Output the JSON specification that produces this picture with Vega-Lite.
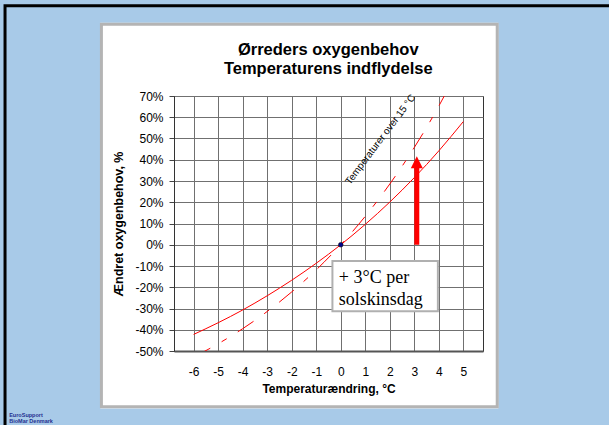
{
  "$schema": "https://vega.github.io/schema/vega-lite/v6.json",
  "autosize": "none",
  "width": 309,
  "height": 255,
  "padding": {"left": 174, "top": 96, "right": 126, "bottom": 74},
  "background": "white",
  "config": {
    "view": {"stroke": "#333333", "strokeWidth": 1},
    "font": "Liberation Sans",
    "axis": {"labelFont": "Liberation Sans", "titleFont": "Liberation Sans", "labelColor": "black", "titleColor": "black", "gridColor": "#707070", "gridOpacity": 1, "gridWidth": 1, "labelOverlap": false},
    "axisX": {"title": "Temperaturændring, °C", "titleFontSize": 12, "titleFontWeight": "bold", "titlePadding": 6, "labelFontSize": 12, "labelPadding": 15, "ticks": false, "grid": true, "domainColor": "#555555", "domainWidth": 2},
    "axisY": {"titleFontSize": 12.5, "titleFontWeight": "bold", "titlePadding": 9, "labelFontSize": 12, "labelPadding": 6, "tickSize": 5, "tickColor": "#444444", "grid": true, "domainColor": "#333333"}
  },
  "datasets": {
    "solid": [
      {"temp": -6, "pct": -42.2}, {"temp": -5, "pct": -36.7}, {"temp": -4, "pct": -30.7},
      {"temp": -3, "pct": -24.0}, {"temp": -2, "pct": -16.7}, {"temp": -1, "pct": -8.7},
      {"temp": 0, "pct": 0}, {"temp": 1, "pct": 9.6}, {"temp": 2, "pct": 20.1},
      {"temp": 3, "pct": 31.6}, {"temp": 4, "pct": 44.2}, {"temp": 5, "pct": 58.0}
    ],
    "dashed": [
      {"temp": -6, "pct": -52.9}, {"temp": -5, "pct": -46.6}, {"temp": -4, "pct": -39.5},
      {"temp": -3, "pct": -31.4}, {"temp": -2, "pct": -22.2}, {"temp": -1, "pct": -11.8},
      {"temp": 0, "pct": 0}, {"temp": 1, "pct": 13.4}, {"temp": 2, "pct": 28.6},
      {"temp": 3, "pct": 45.8}, {"temp": 4, "pct": 65.3}, {"temp": 4.3, "pct": 71.7}
    ],
    "origin": [{"temp": 0, "pct": 0}],
    "note": [{"label": "annotation"}]
  },
  "layer": [
    {
      "data": {"name": "solid"},
      "mark": {"type": "line", "color": "red", "strokeWidth": 1, "interpolate": "monotone", "clip": true},
      "encoding": {
        "x": {"field": "temp", "type": "quantitative", "scale": {"domain": [-6.8, 5.8], "nice": false, "zero": false},
          "axis": {"title": "Temperaturændring, °C", "values": [-6, -5, -4, -3, -2, -1, 0, 1, 2, 3, 4, 5], "labelExpr": "'' + datum.value"}},
        "y": {"field": "pct", "type": "quantitative", "scale": {"domain": [-50, 70], "nice": false, "zero": false},
          "axis": {"title": "Ændret oxygenbehov, %", "values": [-50, -40, -30, -20, -10, 0, 10, 20, 30, 40, 50, 60, 70], "labelExpr": "datum.value + '%'"}}
      }
    },
    {
      "data": {"name": "dashed"},
      "mark": {"type": "line", "color": "red", "strokeWidth": 1, "strokeDash": [19, 13, 6, 13], "clip": true, "interpolate": "monotone"},
      "encoding": {
        "x": {"field": "temp", "type": "quantitative",
          "axis": {"title": "Temperaturændring, °C", "values": [-6, -5, -4, -3, -2, -1, 0, 1, 2, 3, 4, 5], "labelExpr": "'' + datum.value"}},
        "y": {"field": "pct", "type": "quantitative",
          "axis": {"title": "Ændret oxygenbehov, %", "values": [-50, -40, -30, -20, -10, 0, 10, 20, 30, 40, 50, 60, 70], "labelExpr": "datum.value + '%'"}}
      }
    },
    {
      "data": {"name": "note"},
      "mark": {"type": "rule", "color": "red", "strokeWidth": 5},
      "encoding": {
        "x": {"datum": 3.1, "axis": {"title": "Temperaturændring, °C", "values": [-6, -5, -4, -3, -2, -1, 0, 1, 2, 3, 4, 5], "labelExpr": "'' + datum.value"}},
        "y": {"datum": 0, "axis": {"title": "Ændret oxygenbehov, %", "values": [-50, -40, -30, -20, -10, 0, 10, 20, 30, 40, 50, 60, 70], "labelExpr": "datum.value + '%'"}},
        "y2": {"datum": 36.6}
      }
    },
    {
      "data": {"name": "note"},
      "mark": {"type": "rect", "fill": "white", "stroke": "#b0b0b0", "strokeWidth": 2},
      "encoding": {
        "x": {"datum": -0.34, "axis": {"title": "Temperaturændring, °C", "values": [-6, -5, -4, -3, -2, -1, 0, 1, 2, 3, 4, 5], "labelExpr": "'' + datum.value"}},
        "x2": {"datum": 3.96},
        "y": {"datum": -7.7, "axis": {"title": "Ændret oxygenbehov, %", "values": [-50, -40, -30, -20, -10, 0, 10, 20, 30, 40, 50, 60, 70], "labelExpr": "datum.value + '%'"}},
        "y2": {"datum": -31.3}
      }
    },
    {
      "data": {"name": "note"},
      "mark": {"type": "text", "text": ["+ 3°C per", "solskinsdag"], "font": "Liberation Serif", "fontSize": 18, "lineHeight": 22, "align": "left", "baseline": "alphabetic", "color": "black"},
      "encoding": {
        "x": {"datum": -0.08, "axis": {"title": "Temperaturændring, °C", "values": [-6, -5, -4, -3, -2, -1, 0, 1, 2, 3, 4, 5], "labelExpr": "'' + datum.value"}},
        "y": {"datum": -18.2, "axis": {"title": "Ændret oxygenbehov, %", "values": [-50, -40, -30, -20, -10, 0, 10, 20, 30, 40, 50, 60, 70], "labelExpr": "datum.value + '%'"}}
      }
    },
    {
      "data": {"name": "note"},
      "mark": {"type": "point", "shape": "M0,-1L1,1L-1,1Z", "size": 144, "filled": true, "fill": "red", "strokeWidth": 0, "opacity": 1},
      "encoding": {
        "x": {"datum": 3.1, "axis": {"title": "Temperaturændring, °C", "values": [-6, -5, -4, -3, -2, -1, 0, 1, 2, 3, 4, 5], "labelExpr": "'' + datum.value"}},
        "y": {"datum": 38.8, "axis": {"title": "Ændret oxygenbehov, %", "values": [-50, -40, -30, -20, -10, 0, 10, 20, 30, 40, 50, 60, 70], "labelExpr": "datum.value + '%'"}}
      }
    },
    {
      "data": {"name": "origin"},
      "mark": {"type": "point", "shape": "circle", "size": 22, "filled": true, "fill": "#00008b", "stroke": "black", "strokeWidth": 0.5, "opacity": 1},
      "encoding": {
        "x": {"field": "temp", "type": "quantitative", "axis": {"title": "Temperaturændring, °C", "values": [-6, -5, -4, -3, -2, -1, 0, 1, 2, 3, 4, 5], "labelExpr": "'' + datum.value"}},
        "y": {"field": "pct", "type": "quantitative", "axis": {"title": "Ændret oxygenbehov, %", "values": [-50, -40, -30, -20, -10, 0, 10, 20, 30, 40, 50, 60, 70], "labelExpr": "datum.value + '%'"}}
      }
    },
    {
      "data": {"name": "note"},
      "mark": {"type": "text", "text": "Temperaturer over 15 °C", "angle": -53, "fontSize": 10, "align": "center", "baseline": "middle", "color": "black"},
      "encoding": {
        "x": {"datum": 1.62, "axis": {"title": "Temperaturændring, °C", "values": [-6, -5, -4, -3, -2, -1, 0, 1, 2, 3, 4, 5], "labelExpr": "'' + datum.value"}},
        "y": {"datum": 49.5, "axis": {"title": "Ændret oxygenbehov, %", "values": [-50, -40, -30, -20, -10, 0, 10, 20, 30, 40, 50, 60, 70], "labelExpr": "datum.value + '%'"}}
      }
    },
    {
      "data": {"name": "note"},
      "mark": {"type": "rect", "fillOpacity": 0, "stroke": "#a8cae8", "strokeWidth": 240},
      "encoding": {
        "x": {"datum": -14.70, "axis": {"title": "Temperaturændring, °C", "values": [-6, -5, -4, -3, -2, -1, 0, 1, 2, 3, 4, 5], "labelExpr": "'' + datum.value"}},
        "x2": {"datum": 11.32},
        "y": {"datum": 161.0, "axis": {"title": "Ændret oxygenbehov, %", "values": [-50, -40, -30, -20, -10, 0, 10, 20, 30, 40, 50, 60, 70], "labelExpr": "datum.value + '%'"}},
        "y2": {"datum": -133.5}
      }
    },
    {
      "data": {"name": "note"},
      "mark": {"type": "rect", "fillOpacity": 0, "stroke": "black", "strokeWidth": 3},
      "encoding": {
        "x": {"datum": -13.69, "axis": {"title": "Temperaturændring, °C", "values": [-6, -5, -4, -3, -2, -1, 0, 1, 2, 3, 4, 5], "labelExpr": "'' + datum.value"}},
        "x2": {"datum": 15},
        "y": {"datum": 112.5, "axis": {"title": "Ændret oxygenbehov, %", "values": [-50, -40, -30, -20, -10, 0, 10, 20, 30, 40, 50, 60, 70], "labelExpr": "datum.value + '%'"}},
        "y2": {"datum": -150}
      }
    },
    {
      "data": {"name": "note"},
      "mark": {"type": "rect", "fillOpacity": 0, "stroke": "#b4b4b4", "strokeWidth": 3},
      "encoding": {
        "x": {"datum": -9.76, "axis": {"title": "Temperaturændring, °C", "values": [-6, -5, -4, -3, -2, -1, 0, 1, 2, 3, 4, 5], "labelExpr": "'' + datum.value"}},
        "x2": {"datum": 6.38},
        "y": {"datum": 103.8, "axis": {"title": "Ændret oxygenbehov, %", "values": [-50, -40, -30, -20, -10, 0, 10, 20, 30, 40, 50, 60, 70], "labelExpr": "datum.value + '%'"}},
        "y2": {"datum": -76.2}
      }
    },
    {
      "data": {"name": "note"},
      "mark": {"type": "text", "text": ["Ørreders oxygenbehov", "Temperaturens indflydelse"], "fontSize": 16.5, "fontWeight": "bold", "lineHeight": 18.5, "align": "center", "baseline": "alphabetic", "color": "black"},
      "encoding": {
        "x": {"datum": -0.51, "axis": {"title": "Temperaturændring, °C", "values": [-6, -5, -4, -3, -2, -1, 0, 1, 2, 3, 4, 5], "labelExpr": "'' + datum.value"}},
        "y": {"datum": 89.1, "axis": {"title": "Ændret oxygenbehov, %", "values": [-50, -40, -30, -20, -10, 0, 10, 20, 30, 40, 50, 60, 70], "labelExpr": "datum.value + '%'"}}
      }
    },
    {
      "data": {"name": "note"},
      "mark": {"type": "text", "text": ["EuroSupport", "BioMar Denmark"], "fontSize": 5.5, "fontWeight": "bold", "lineHeight": 6, "align": "left", "baseline": "alphabetic", "color": "#1f2f8f"},
      "encoding": {
        "x": {"datum": -13.52, "axis": {"title": "Temperaturændring, °C", "values": [-6, -5, -4, -3, -2, -1, 0, 1, 2, 3, 4, 5], "labelExpr": "'' + datum.value"}},
        "y": {"datum": -81.1, "axis": {"title": "Ændret oxygenbehov, %", "values": [-50, -40, -30, -20, -10, 0, 10, 20, 30, 40, 50, 60, 70], "labelExpr": "datum.value + '%'"}}
      }
    }
  ]
}
